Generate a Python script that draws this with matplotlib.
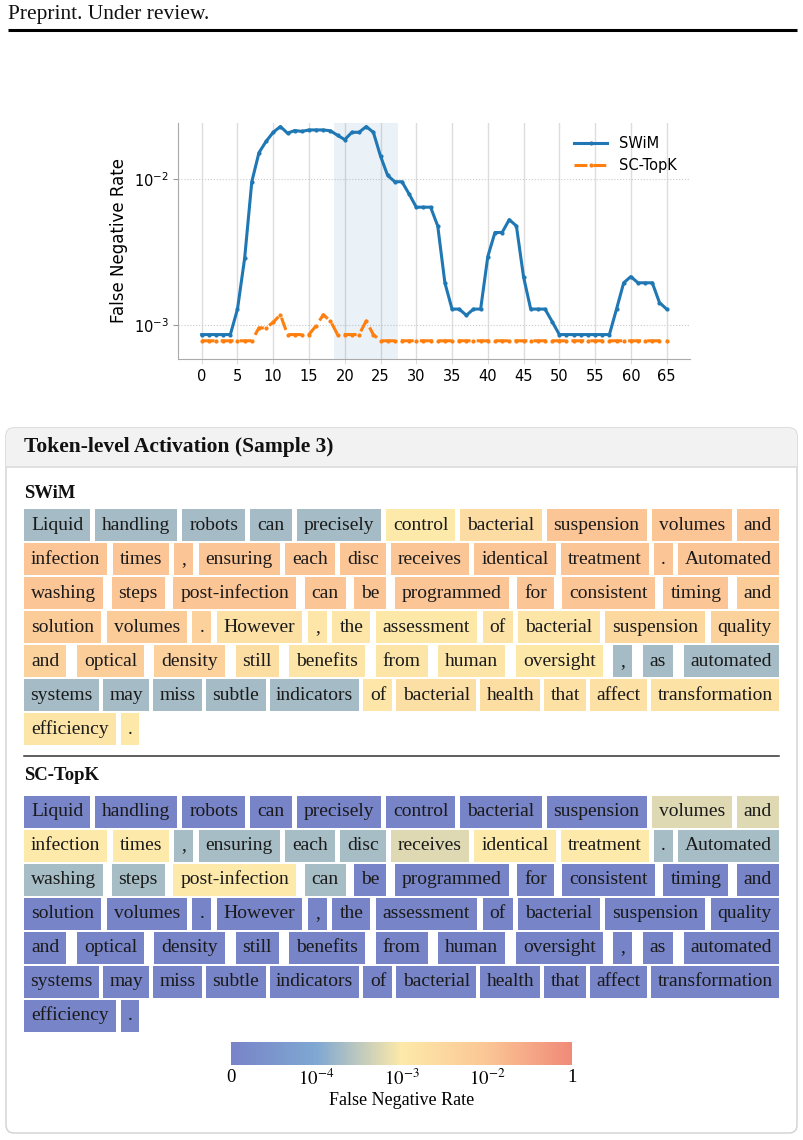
import numpy as np
import matplotlib
matplotlib.use("Agg")
import matplotlib.pyplot as plt
from matplotlib.colors import LinearSegmentedColormap, FuncNorm
from matplotlib.patches import Rectangle, FancyBboxPatch
from matplotlib.ticker import NullLocator

# ---- data -------------------------------------------------------------
steps = np.arange(66)

swim_fnr = [8.55e-4, 8.55e-4, 8.55e-4, 8.55e-4, 8.55e-4, 1.28e-3, 2.86e-3, 9.6e-3,
            1.52e-2, 1.82e-2, 2.1e-2, 2.3e-2, 2.07e-2, 2.16e-2, 2.13e-2, 2.18e-2,
            2.18e-2, 2.18e-2, 2.15e-2, 2.0e-2, 1.87e-2, 2.1e-2, 2.1e-2, 2.3e-2,
            2.1e-2, 1.44e-2, 1.06e-2, 9.6e-3, 9.6e-3, 7.9e-3, 6.42e-3, 6.42e-3,
            6.42e-3, 4.77e-3, 1.94e-3, 1.28e-3, 1.28e-3, 1.16e-3, 1.28e-3, 1.28e-3,
            2.94e-3, 4.3e-3, 4.3e-3, 5.27e-3, 4.77e-3, 2.13e-3, 1.28e-3, 1.28e-3,
            1.28e-3, 1.05e-3, 8.55e-4, 8.55e-4, 8.55e-4, 8.55e-4, 8.55e-4, 8.55e-4,
            8.55e-4, 8.55e-4, 1.28e-3, 1.94e-3, 2.14e-3, 1.94e-3, 1.94e-3, 1.94e-3,
            1.42e-3, 1.28e-3]

topk_fnr = [7.75e-4] * 8 + [9.5e-4, 9.5e-4, 1.04e-3, 1.17e-3, 8.55e-4, 8.55e-4,
            8.55e-4, 8.55e-4, 9.85e-4, 1.17e-3, 1.06e-3, 8.55e-4, 8.55e-4, 8.55e-4,
            8.55e-4, 1.06e-3, 8.55e-4] + [7.75e-4] * 41

tokens = ["Liquid", "handling", "robots", "can", "precisely", "control", "bacterial",
          "suspension", "volumes", "and",
          "infection", "times", ",", "ensuring", "each", "disc", "receives", "identical",
          "treatment", ".", "Automated",
          "washing", "steps", "post-infection", "can", "be", "programmed", "for",
          "consistent", "timing", "and",
          "solution", "volumes", ".", "However", ",", "the", "assessment", "of",
          "bacterial", "suspension", "quality",
          "and", "optical", "density", "still", "benefits", "from", "human", "oversight",
          ",", "as", "automated",
          "systems", "may", "miss", "subtle", "indicators", "of", "bacterial", "health",
          "that", "affect", "transformation",
          "efficiency", "."]
row_sizes = [10, 11, 10, 11, 11, 11, 2]

# token-level false negative rate (per token)
swim_tok = ([2e-4] * 5 + [1e-3, 2.3e-3, 1e-2, 1e-2, 1e-2]
            + [1e-2] * 11
            + [1e-2] * 9 + [7e-3]
            + [7e-3, 7e-3, 5e-3, 1.8e-3, 1.2e-3, 1.2e-3, 1.1e-3, 1.4e-3, 1.3e-3, 3e-3, 4.5e-3]
            + [4.5e-3, 6e-3, 5e-3, 2e-3, 1.3e-3, 1.3e-3, 1.3e-3, 1.1e-3, 2e-4, 2e-4, 2e-4]
            + [2e-4] * 5 + [1.2e-3, 1.9e-3, 2.2e-3, 1.8e-3, 1.8e-3, 1.6e-3]
            + [1.3e-3, 1.1e-3])
topk_tok = ([0] * 8 + [5.8e-4, 5.8e-4]
            + [1e-3, 1e-3, 2.1e-4, 2.1e-4, 2.1e-4, 2.1e-4, 5.8e-4, 1e-3, 1e-3, 2.1e-4, 2.1e-4]
            + [2.1e-4, 2.1e-4, 1e-3, 2.1e-4] + [0] * 6
            + [0] * 35)

cbar_ticks = [0, 1e-4, 1e-3, 1e-2, 1]
cbar_labels = ["0", r"$10^{-4}$", r"$10^{-3}$", r"$10^{-2}$", "1"]

# ---- colour scale -----------------------------------------------------
cmap = LinearSegmentedColormap.from_list(
    "fnr", ["#7884c8", "#7fa8d2", "#fde9a9", "#fbc695", "#f08a78"])


def fwd(v):
    v = np.asarray(v, dtype=float)
    lv = np.log10(np.clip(v, 1e-4, None))
    return np.where(v < 1e-4, 0.25 * v / 1e-4,
                    np.interp(lv, [-4, -3, -2, 0], [0.25, 0.5, 0.75, 1.0]))


def inv(p):
    p = np.asarray(p, dtype=float)
    return np.where(p < 0.25, p * 4e-4,
                    10 ** np.interp(p, [0.25, 0.5, 0.75, 1.0], [-4, -3, -2, 0]))


norm = FuncNorm((fwd, inv), vmin=0, vmax=1)

serif = "Liberation Serif"

# ---- figure -----------------------------------------------------------
fig = plt.figure(figsize=(8.04, 11.4), dpi=100)
bg = fig.add_axes([0, 0, 1, 1], zorder=0)
bg.set_xlim(0, 804)
bg.set_ylim(1140, 0)
bg.axis("off")
renderer = fig.canvas.get_renderer()

# page header
bg.text(8, 14, "Preprint. Under review.", family=serif, fontsize=15.5,
        va="center", ha="left", color="#111111")
bg.plot([8, 797], [30, 30], color="black", lw=2.2, solid_capstyle="butt")

# panel
panel = FancyBboxPatch((6, 428), 791, 705, boxstyle="round,pad=0,rounding_size=8",
                       facecolor="white", edgecolor="#d0d0d0", lw=1)
bg.add_patch(panel)
head = Rectangle((6, 428), 791, 39, facecolor="#f2f2f2", edgecolor="none")
bg.add_patch(head)
head.set_clip_path(panel)
bg.plot([6, 797], [467, 467], color="#dcdcdc", lw=1.2)
bg.text(24, 447, "Token-level Activation (Sample 3)", family=serif, fontsize=15.5,
        weight="bold", va="center", ha="left", color="#111111")

left, right = 24, 779
pad, min_gap, box_h, pitch = 7, 4, 31.5, 34


def draw_tokens(values, top):
    idx = 0
    for r, n in enumerate(row_sizes):
        texts = [bg.text(0, 0, t, family=serif, fontsize=14, color="#1a1a1a",
                         ha="center", va="baseline") for t in tokens[idx:idx + n]]
        text_w = [t.get_window_extent(renderer).width for t in texts]
        if r < len(row_sizes) - 1:
            p = min(pad, (right - left - sum(text_w) - (n - 1) * min_gap) / (2 * n))
            widths = [w + 2 * p for w in text_w]
            gap = (right - left - sum(widths)) / (n - 1)
        else:
            widths = [w + 2 * pad for w in text_w]
            gap = 5
        x = left
        y = top + r * pitch
        for k, (t, w) in enumerate(zip(texts, widths)):
            bg.add_patch(Rectangle((x, y), w, box_h, facecolor=cmap(norm(values[idx + k])),
                                   edgecolor="none", zorder=1))
            t.set_position((x + w / 2, round(y + 20.5)))
            t.set_zorder(2)
            x += w + gap
        idx += n


bg.text(24, 493, "SWiM", family=serif, fontsize=13.5, weight="bold",
        va="center", ha="left", color="#111111")
draw_tokens(swim_tok, 509)
bg.plot([24, 779], [756, 756], color="#333333", lw=1.1)
bg.text(24, 775, "SC-TopK", family=serif, fontsize=13.5, weight="bold",
        va="center", ha="left", color="#111111")
draw_tokens(topk_tok, 796)

# ---- line chart -------------------------------------------------------
ax = fig.add_axes([0.222, 0.685, 0.636, 0.2075], zorder=3)
ax.axvspan(18.5, 27.5, color="#1f77b4", alpha=0.09, lw=0)
ax.plot(steps, swim_fnr, color="#1f77b4", lw=2.2, marker=".", markersize=4, label="SWiM")
ax.plot(steps, topk_fnr, color="#ff7f0e", lw=2.2, ls="--", dashes=(4.2, 2), marker=".",
        markersize=4, label="SC-TopK")
ax.set_yscale("log")
ax.set_ylim(5.8e-4, 2.45e-2)
ax.yaxis.set_minor_locator(NullLocator())
ax.set_xticks(range(0, 66, 5))
ax.grid(axis="x", color="#dddddd", lw=1)
ax.grid(axis="y", which="major", color="#cccccc", ls=":", lw=0.8)
ax.set_axisbelow(True)
for s in ["top", "right"]:
    ax.spines[s].set_visible(False)
for s in ["left", "bottom"]:
    ax.spines[s].set_color("#aaaaaa")
ax.tick_params(axis="x", labelsize=10.5, color="#dddddd")
ax.tick_params(axis="y", labelsize=10.5, color="#999999")
ax.set_ylabel("False Negative Rate", fontsize=12)
ax.legend(loc="upper right", frameon=False, fontsize=10.5, handlelength=2.3)

# ---- colour bar -------------------------------------------------------
cax = fig.add_axes([0.2873, 0.0658, 0.4241, 0.0202])
sm = plt.cm.ScalarMappable(norm=norm, cmap=cmap)
cbar = fig.colorbar(sm, cax=cax, orientation="horizontal")
cbar.outline.set_visible(False)
cbar.set_ticks(cbar_ticks, labels=cbar_labels, family=serif, math_fontfamily="stix",
               fontsize=13.5)
cax.tick_params(length=0, pad=3)
cbar.set_label("False Negative Rate", family=serif, fontsize=13, labelpad=2)

fig.savefig("out.png", dpi=100)
